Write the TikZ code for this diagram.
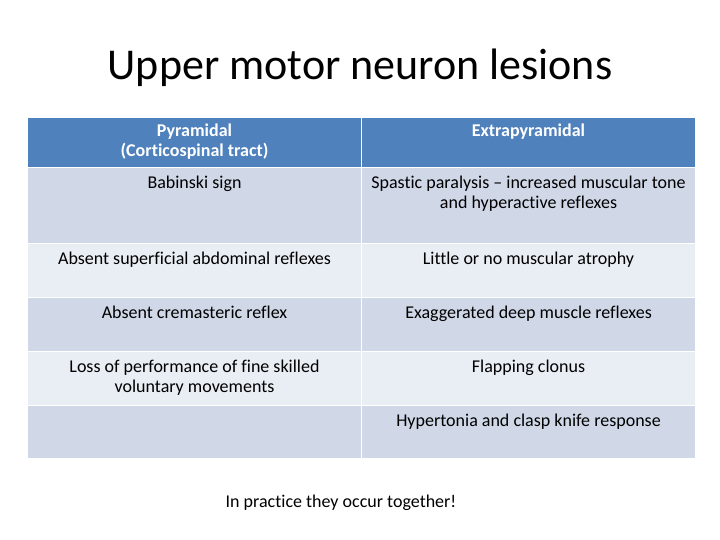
\documentclass[tikz,border=0pt]{standalone}
\usepackage{fontspec}
\setmainfont{Carlito}[Ligatures=NoCommon]
\usetikzlibrary{positioning}
\definecolor{hdrblue}{HTML}{4F81BD}
\definecolor{rowdark}{HTML}{D0D8E8}
\definecolor{rowlight}{HTML}{E9EDF4}
\tikzset{
  cell/.style={draw=white, line width=1pt, anchor=north west, inner sep=0pt, minimum width=334pt},
  celltext/.style={anchor=north, align=center, inner sep=0pt, font=\fontsize{18}{20}\selectfont},
  hdrtext/.style={celltext, text=white, font=\bfseries\fontsize{18}{20}\selectfont},
}

\begin{document}
\begin{tikzpicture}[x=1pt, y=-1pt]
    \fill[white] (0,0) rectangle (720,540);
    \useasboundingbox (0,0) rectangle (720,540);
    % title
    \node (title) at (360,68) {\fontsize{44}{50}\selectfont Upper motor neuron lesions};
    % header
    \node[cell, fill=hdrblue, minimum height=50pt] (h1) at (27,117) {};
    \node[cell, fill=hdrblue, minimum height=50pt] (h2) at (361,117) {};
    \node[hdrtext, below=7pt of h1.north] (h1t) {Pyramidal\\(Corticospinal tract)};
    \node[hdrtext, below=7pt of h2.north] (h2t) {Extrapyramidal};
    % rows
    \node[cell, fill=rowdark, minimum height=76pt] (a1) at (27,167) {};
    \node[cell, fill=rowdark, minimum height=76pt] (a2) at (361,167) {};
    \node[cell, fill=rowlight, minimum height=54pt] (b1) at (27,243) {};
    \node[cell, fill=rowlight, minimum height=54pt] (b2) at (361,243) {};
    \node[cell, fill=rowdark, minimum height=54pt] (c1) at (27,297) {};
    \node[cell, fill=rowdark, minimum height=54pt] (c2) at (361,297) {};
    \node[cell, fill=rowlight, minimum height=54pt] (d1) at (27,351) {};
    \node[cell, fill=rowlight, minimum height=54pt] (d2) at (361,351) {};
    \node[cell, fill=rowdark, minimum height=53pt] (e1) at (27,405) {};
    \node[cell, fill=rowdark, minimum height=53pt] (e2) at (361,405) {};
    % cell texts
    \node[celltext, below=8.5pt of a1.north] (a1t) {Babinski sign};
    \node[celltext, below=8.5pt of a2.north] (a2t) {Spastic paralysis \textendash{} increased muscular tone\\and hyperactive reflexes};
    \node[celltext, below=8.5pt of b1.north] (b1t) {Absent superficial abdominal reflexes};
    \node[celltext, below=8.5pt of b2.north] (b2t) {Little or no muscular atrophy};
    \node[celltext, below=8.5pt of c1.north] (c1t) {Absent cremasteric reflex};
    \node[celltext, below=8.5pt of c2.north] (c2t) {Exaggerated deep muscle reflexes};
    \node[celltext, below=8.5pt of d1.north] (d1t) {Loss of performance of fine skilled\\voluntary movements};
    \node[celltext, below=8.5pt of d2.north] (d2t) {Flapping clonus};
    \node[celltext, below=8.5pt of e2.north] (e2t) {Hypertonia and clasp knife response};
    % note
    \node[font=\fontsize{18}{20}\selectfont] (note) at (341,503) {In practice they occur together!};
\end{tikzpicture}
\end{document}
